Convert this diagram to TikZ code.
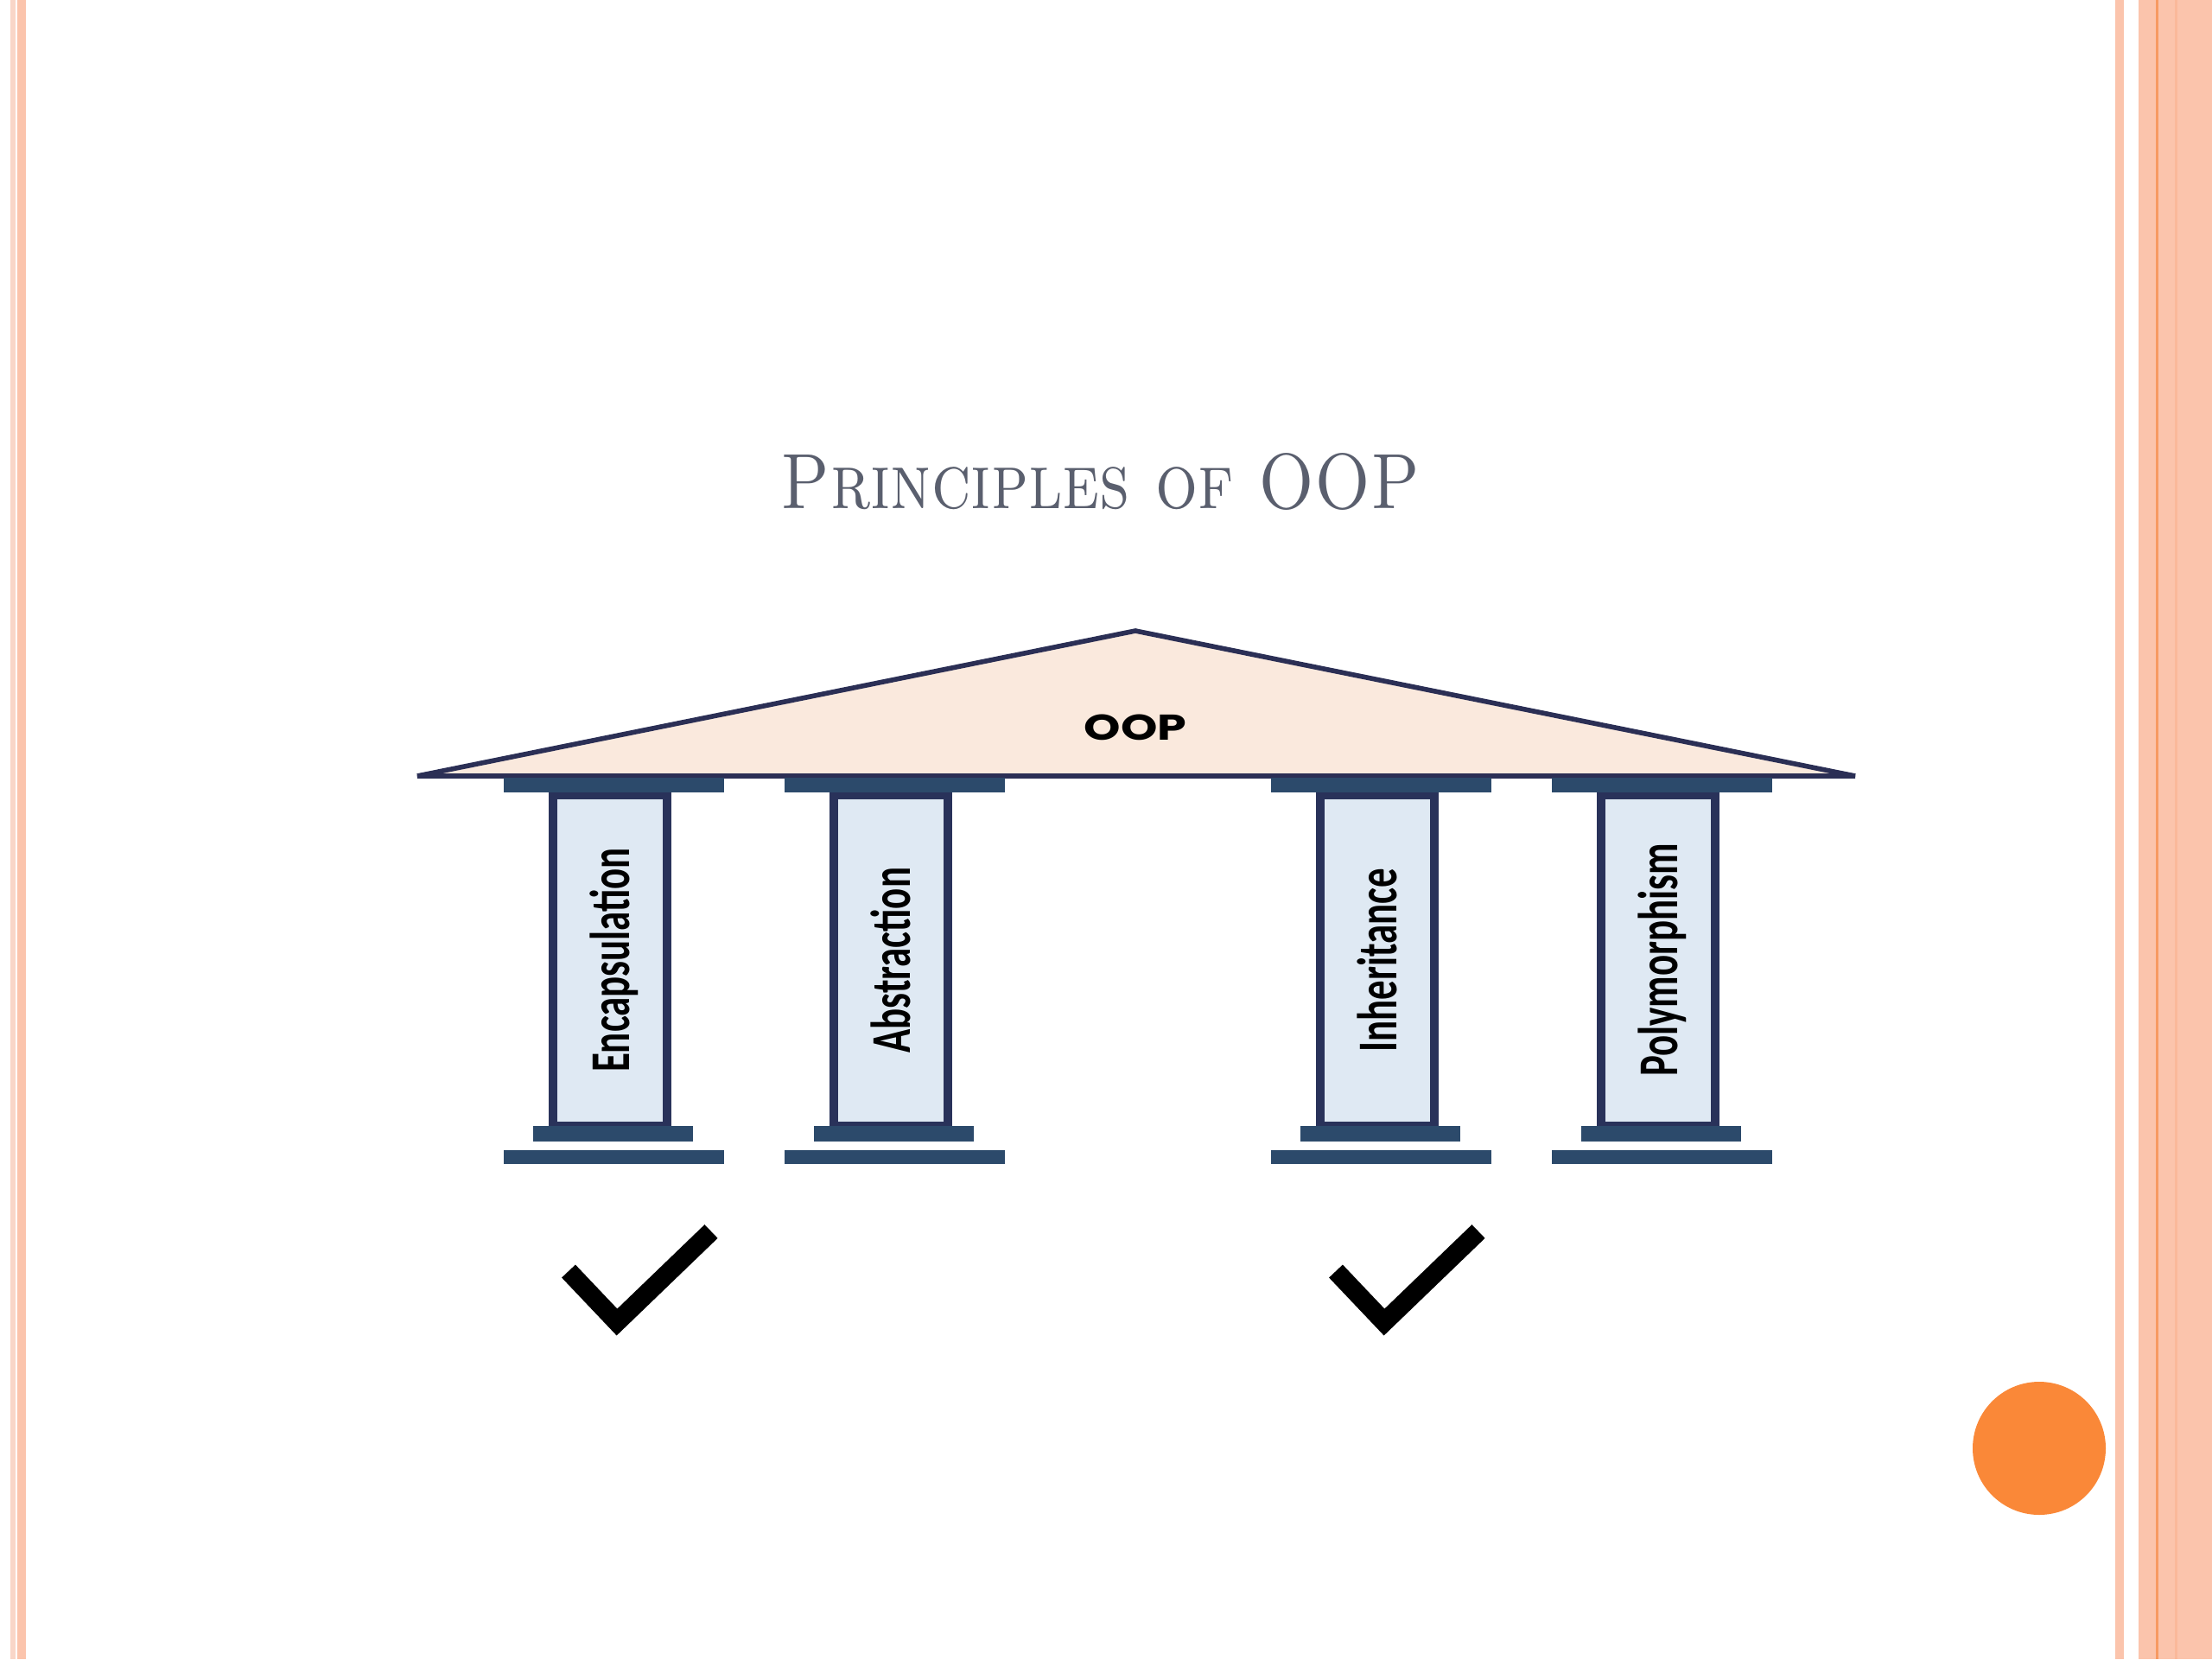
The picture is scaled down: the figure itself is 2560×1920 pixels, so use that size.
\documentclass[tikz,border=0pt]{standalone}
\usepackage{xcolor}
\usepackage{fontspec}
\usepackage{tikz}
\newfontfamily\colfont{Carlito}
\newfontfamily\rooffont{Poppins}
\definecolor{stripepink}{HTML}{F9D6C8}
\definecolor{stripesalmon}{HTML}{FBC4AC}
\definecolor{stripeorange}{HTML}{F79A62}
\definecolor{roofline}{HTML}{2B2F55}
\definecolor{rooffill}{HTML}{FAE9DD}
\definecolor{slab}{HTML}{2C4A6B}
\definecolor{shaftline}{HTML}{29325A}
\definecolor{shaftfill}{HTML}{DFE9F3}
\definecolor{titlegray}{HTML}{5A5F6E}
\definecolor{dotorange}{HTML}{FA8838}

\begin{document}
\begin{tikzpicture}[x=0.01cm, y=-0.01cm]
\useasboundingbox (0,0) rectangle (2560,1920);
% side stripes
\fill[stripepink] (12,0) rectangle (18,1920);
\fill[stripesalmon] (20,0) rectangle (30,1920);
\fill[stripesalmon] (2448,0) rectangle (2458,1920);
\fill[stripesalmon] (2475,0) rectangle (2560,1920);
\fill[stripeorange] (2495,0) rectangle (2498,1920);
\fill[stripesalmon!75!stripeorange] (2517,0) rectangle (2520,1920);

% title
\node[anchor=base, text=titlegray, font=\fontsize{25.8}{30}\selectfont] (title) at (1274,588) {\scalebox{0.85}[1]{\textsc{Principles of OOP}}};

% roof
\coordinate (apex) at (1314,730);
\coordinate (eaveL) at (483,898);
\coordinate (eaveR) at (2147,898);
\draw[roofline, fill=rooffill, line width=1.6pt] (eaveL) -- (apex) -- (eaveR) -- cycle;
\node[font=\rooffont\bfseries\fontsize{11.8}{14}\selectfont] (oop) at (1314,842) {\scalebox{1.3}[1]{OOP}};

% pillars
\foreach \x/\name/\lab in {583/enc/Encapsulation, 908/abs/Abstraction, 1471/inh/Inheritance, 1796/pol/Polymorphism}
{
  \draw[shaftline, fill=shaftfill, line width=2.8pt] (\x+57,920) rectangle (\x+189,1303);
  \fill[slab] (\x,900) rectangle ++(255,17);
  \fill[slab] (\x+34,1303) rectangle ++(185,18);
  \fill[slab] (\x,1331) rectangle ++(255,16);
  \node[rotate=90, anchor=base, font=\colfont\bfseries\fontsize{18.5}{20}\selectfont] (\name) at (\x+145.5,1111) {\scalebox{0.69}[1]{\lab}};
}

% ticks
\foreach \x in {583, 1471}
  \draw[black, line width=6.2pt] (\x+75,1471) -- (\x+131,1530) -- (\x+240,1425);

\fill[dotorange] (2360,1676) circle (77);
\end{tikzpicture}
\end{document}
